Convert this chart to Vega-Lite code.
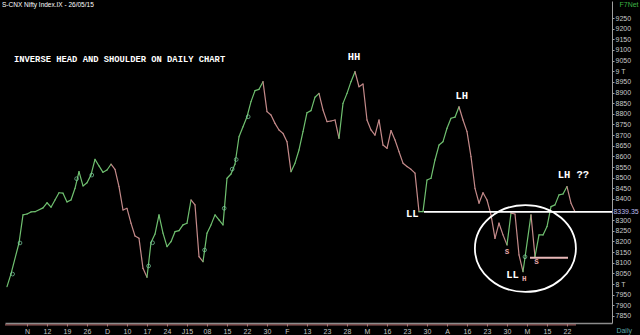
{
  "$schema": "https://vega.github.io/schema/vega-lite/v6.json",
  "width": 607,
  "height": 322,
  "autosize": {"type": "none"},
  "padding": {"top": 1, "left": 5, "right": 28, "bottom": 12},
  "background": "#000000",
  "config": {"view": {"stroke": null}},
  "datasets": {
    "prices": [
      {"t": 0, "price": 7988, "trend": "up"},
      {"t": 1, "price": 8048, "trend": "up"},
      {"t": 3, "price": 8193, "trend": "up"},
      {"t": 4, "price": 8325, "trend": "up"},
      {"t": 5, "price": 8329, "trend": "up"},
      {"t": 6, "price": 8339, "trend": "up"},
      {"t": 7, "price": 8340, "trend": "up"},
      {"t": 9, "price": 8358, "trend": "up"},
      {"t": 10, "price": 8382, "trend": "up"},
      {"t": 11, "price": 8361, "trend": "up"},
      {"t": 12, "price": 8395, "trend": "up"},
      {"t": 13, "price": 8429, "trend": "up"},
      {"t": 14, "price": 8427, "trend": "up"},
      {"t": 15, "price": 8386, "trend": "up"},
      {"t": 16, "price": 8395, "trend": "up"},
      {"t": 17, "price": 8450, "trend": "up"},
      {"t": 18, "price": 8528, "trend": "up"},
      {"t": 19, "price": 8461, "trend": "up"},
      {"t": 20, "price": 8476, "trend": "up"},
      {"t": 21, "price": 8513, "trend": "up"},
      {"t": 22, "price": 8586, "trend": "up"},
      {"t": 23, "price": 8555, "trend": "up"},
      {"t": 24, "price": 8525, "trend": "up"},
      {"t": 25, "price": 8536, "trend": "up"},
      {"t": 26, "price": 8563, "trend": "up"},
      {"t": 27, "price": 8539, "trend": "down"},
      {"t": 28, "price": 8458, "trend": "down"},
      {"t": 29, "price": 8348, "trend": "down"},
      {"t": 30, "price": 8356, "trend": "down"},
      {"t": 31, "price": 8286, "trend": "down"},
      {"t": 32, "price": 8226, "trend": "down"},
      {"t": 33, "price": 8215, "trend": "down"},
      {"t": 34, "price": 8074, "trend": "down"},
      {"t": 35, "price": 8032, "trend": "down"},
      {"t": 36, "price": 8195, "trend": "up"},
      {"t": 37, "price": 8235, "trend": "up"},
      {"t": 38, "price": 8325, "trend": "up"},
      {"t": 39, "price": 8239, "trend": "up"},
      {"t": 40, "price": 8176, "trend": "up"},
      {"t": 41, "price": 8199, "trend": "up"},
      {"t": 42, "price": 8246, "trend": "up"},
      {"t": 43, "price": 8251, "trend": "up"},
      {"t": 44, "price": 8278, "trend": "up"},
      {"t": 45, "price": 8286, "trend": "up"},
      {"t": 46, "price": 8395, "trend": "up"},
      {"t": 47, "price": 8372, "trend": "down"},
      {"t": 48, "price": 8129, "trend": "down"},
      {"t": 49, "price": 8105, "trend": "down"},
      {"t": 50, "price": 8239, "trend": "up"},
      {"t": 51, "price": 8278, "trend": "up"},
      {"t": 52, "price": 8325, "trend": "up"},
      {"t": 53, "price": 8301, "trend": "up"},
      {"t": 54, "price": 8278, "trend": "up"},
      {"t": 55, "price": 8497, "trend": "up"},
      {"t": 56, "price": 8517, "trend": "up"},
      {"t": 57, "price": 8564, "trend": "up"},
      {"t": 58, "price": 8692, "trend": "up"},
      {"t": 59, "price": 8739, "trend": "up"},
      {"t": 60, "price": 8786, "trend": "up"},
      {"t": 61, "price": 8857, "trend": "up"},
      {"t": 62, "price": 8909, "trend": "up"},
      {"t": 63, "price": 8915, "trend": "up"},
      {"t": 64, "price": 8951, "trend": "up"},
      {"t": 65, "price": 8810, "trend": "down"},
      {"t": 66, "price": 8794, "trend": "down"},
      {"t": 67, "price": 8755, "trend": "down"},
      {"t": 68, "price": 8724, "trend": "down"},
      {"t": 69, "price": 8708, "trend": "down"},
      {"t": 70, "price": 8669, "trend": "down"},
      {"t": 71, "price": 8528, "trend": "down"},
      {"t": 72, "price": 8568, "trend": "up"},
      {"t": 73, "price": 8630, "trend": "up"},
      {"t": 74, "price": 8716, "trend": "up"},
      {"t": 75, "price": 8805, "trend": "up"},
      {"t": 76, "price": 8815, "trend": "up"},
      {"t": 77, "price": 8878, "trend": "up"},
      {"t": 78, "price": 8896, "trend": "up"},
      {"t": 79, "price": 8818, "trend": "down"},
      {"t": 80, "price": 8763, "trend": "down"},
      {"t": 81, "price": 8766, "trend": "down"},
      {"t": 82, "price": 8771, "trend": "down"},
      {"t": 83, "price": 8685, "trend": "down"},
      {"t": 84, "price": 8849, "trend": "up"},
      {"t": 85, "price": 8896, "trend": "up"},
      {"t": 86, "price": 8951, "trend": "up"},
      {"t": 87, "price": 8998, "trend": "up"},
      {"t": 88, "price": 8927, "trend": "down"},
      {"t": 89, "price": 8940, "trend": "down"},
      {"t": 90, "price": 8771, "trend": "down"},
      {"t": 91, "price": 8724, "trend": "down"},
      {"t": 92, "price": 8700, "trend": "down"},
      {"t": 93, "price": 8771, "trend": "down"},
      {"t": 94, "price": 8653, "trend": "down"},
      {"t": 95, "price": 8638, "trend": "down"},
      {"t": 96, "price": 8721, "trend": "down"},
      {"t": 97, "price": 8677, "trend": "down"},
      {"t": 98, "price": 8622, "trend": "down"},
      {"t": 99, "price": 8568, "trend": "down"},
      {"t": 100, "price": 8552, "trend": "down"},
      {"t": 101, "price": 8539, "trend": "down"},
      {"t": 102, "price": 8521, "trend": "down"},
      {"t": 103, "price": 8340, "trend": "down"},
      {"t": 104, "price": 8340, "trend": "up"},
      {"t": 105, "price": 8489, "trend": "up"},
      {"t": 106, "price": 8497, "trend": "up"},
      {"t": 107, "price": 8583, "trend": "up"},
      {"t": 108, "price": 8653, "trend": "up"},
      {"t": 109, "price": 8669, "trend": "up"},
      {"t": 110, "price": 8732, "trend": "up"},
      {"t": 111, "price": 8779, "trend": "up"},
      {"t": 112, "price": 8784, "trend": "up"},
      {"t": 113, "price": 8833, "trend": "up"},
      {"t": 114, "price": 8771, "trend": "down"},
      {"t": 115, "price": 8716, "trend": "down"},
      {"t": 116, "price": 8599, "trend": "down"},
      {"t": 117, "price": 8450, "trend": "down"},
      {"t": 118, "price": 8380, "trend": "down"},
      {"t": 119, "price": 8429, "trend": "down"},
      {"t": 120, "price": 8395, "trend": "down"},
      {"t": 121, "price": 8325, "trend": "down"},
      {"t": 122, "price": 8215, "trend": "down"},
      {"t": 123, "price": 8286, "trend": "down"},
      {"t": 124, "price": 8231, "trend": "down"},
      {"t": 125, "price": 8184, "trend": "down"},
      {"t": 126, "price": 8333, "trend": "up"},
      {"t": 127, "price": 8329, "trend": "down"},
      {"t": 128, "price": 8137, "trend": "down"},
      {"t": 129, "price": 8058, "trend": "down"},
      {"t": 131, "price": 8325, "trend": "up"},
      {"t": 132, "price": 8129, "trend": "down"},
      {"t": 133, "price": 8231, "trend": "up"},
      {"t": 134, "price": 8231, "trend": "up"},
      {"t": 135, "price": 8270, "trend": "up"},
      {"t": 136, "price": 8364, "trend": "up"},
      {"t": 137, "price": 8372, "trend": "up"},
      {"t": 138, "price": 8419, "trend": "up"},
      {"t": 139, "price": 8423, "trend": "up"},
      {"t": 140, "price": 8458, "trend": "up"},
      {"t": 141, "price": 8380, "trend": "down"},
      {"t": 142, "price": 8340, "trend": "down"}
    ],
    "signals": [
      {"t": 1.4, "price": 8047},
      {"t": 3.25, "price": 8193},
      {"t": 17.4, "price": 8495},
      {"t": 21.2, "price": 8512},
      {"t": 35.4, "price": 8085},
      {"t": 36.4, "price": 8194},
      {"t": 49.4, "price": 8160},
      {"t": 54.3, "price": 8356},
      {"t": 56.3, "price": 8540},
      {"t": 57.3, "price": 8585},
      {"t": 60.3, "price": 8786},
      {"t": 129.5, "price": 8128}
    ],
    "marks": [
      {"t": 86.75, "price": 9067, "label": "HH"},
      {"t": 113.7, "price": 8884, "label": "LH"},
      {"t": 141.6, "price": 8512, "label": "LH ??"},
      {"t": 101.3, "price": 8329, "label": "LL"},
      {"t": 126.4, "price": 8044, "label": "LL"}
    ],
    "small": [
      {"t": 125, "price": 8152, "label": "S"},
      {"t": 132.4, "price": 8102, "label": "S"},
      {"t": 129.3, "price": 8023, "label": "H"}
    ]
  },
  "layer": [
    {
      "data": {"name": "prices"},
      "transform": [
        {"window": [
          {"op": "lead", "field": "t", "as": "t2"},
          {"op": "lead", "field": "price", "as": "p2"},
          {"op": "lead", "field": "trend", "as": "trend2"}
        ], "sort": [{"field": "t", "order": "ascending"}], "frame": [null, null]},
        {"filter": "datum.t2 != null"}
      ],
      "mark": {"type": "rule", "strokeWidth": 1.2, "strokeCap": "round"},
      "encoding": {
        "x": {
          "field": "t", "type": "quantitative",
          "scale": {"domain": [-0.5, 151.25], "nice": false, "zero": false},
          "axis": {
            "values": [5,10,15,20,25,30,35,40,45,50,55,60,65,70,75,80,85,90,95,100,105,110,115,120,125,130,135,140],
            "tickCount": 200,
            "labelExpr": "['N','12','19','26','D','10','17','24','J15','08','15','22','30','F','13','23','28','M','16','23','30','A','16','23','30','M','15','22'][datum.value/5-1]",
            "grid": false, "title": null,
            "domainColor": "#8c8c8c", "domainWidth": 1.6,
            "tickColor": "#a07878", "tickSize": 3,
            "labelColor": "#c8c8c8", "labelFontSize": 7, "labelFont": "Liberation Sans",
            "labelPadding": 1, "labelOverlap": false, "labelFlush": false
          }
        },
        "y": {
          "field": "price", "type": "quantitative",
          "scale": {"domain": [7817, 9330], "nice": false, "zero": false},
          "axis": {
            "orient": "right",
            "values": [7850,7900,7950,8000,8050,8100,8150,8200,8250,8300,8400,8450,8500,8550,8600,8650,8700,8750,8800,8850,8900,8950,9000,9050,9100,9150,9200,9250],
            "tickCount": 200,
            "labelExpr": "datum.value == 9000 ? '9 T' : datum.value == 8000 ? '8 T' : format(datum.value, 'd')",
            "grid": false, "title": null,
            "domainColor": "#a0a0a0", "domainWidth": 1,
            "tickColor": "#a0a0a0", "tickSize": 2,
            "labelColor": "#c8c8c8", "labelFontSize": 7, "labelFont": "Liberation Sans",
            "labelPadding": 1, "labelOverlap": false, "labelFlush": false
          }
        },
        "x2": {"field": "t2"},
        "y2": {"field": "p2"},
        "color": {
          "field": "trend2", "type": "nominal",
          "scale": {"domain": ["up", "down"], "range": ["#70c070", "#c48a8a"]},
          "legend": null
        }
      }
    },
    {
      "data": {"name": "signals"},
      "mark": {"type": "point", "filled": false, "size": 14, "strokeWidth": 1, "color": "#80d8a8"},
      "encoding": {
        "x": {"field": "t", "type": "quantitative"},
        "y": {"field": "price", "type": "quantitative"}
      }
    },
    {
      "data": {"values": [{}]},
      "mark": {"type": "rule", "color": "#ffffff", "strokeWidth": 1.8},
      "encoding": {
        "x": {"datum": 104.25}, "x2": {"datum": 151.25},
        "y": {"datum": 8339.35}
      }
    },
    {
      "data": {"values": [{}]},
      "mark": {"type": "rule", "color": "#e8b8b8", "strokeWidth": 2},
      "encoding": {
        "x": {"datum": 130.75}, "x2": {"datum": 140.25},
        "y": {"datum": 8124}
      }
    },
    {
      "data": {"values": [{}]},
      "mark": {"type": "rule", "color": "#b87070", "strokeWidth": 1},
      "encoding": {
        "x": {"datum": -0.5}, "x2": {"datum": 142.25},
        "y": {"datum": 7808}
      }
    },
    {
      "data": {"values": [{}]},
      "mark": {
        "type": "point", "filled": false, "stroke": "#ffffff", "strokeWidth": 1.8, "opacity": 1,
        "shape": "M1,0 C1,0.475 0.5523,0.86 0,0.86 C-0.5523,0.86 -1,0.475 -1,0 C-1,-0.475 -0.5523,-0.86 0,-0.86 C0.5523,-0.86 1,-0.475 1,0 Z",
        "size": 10201
      },
      "encoding": {
        "x": {"datum": 129.6},
        "y": {"datum": 8167}
      }
    },
    {
      "data": {"name": "marks"},
      "mark": {"type": "text", "font": "Liberation Mono", "fontWeight": "bold", "fontSize": 10.5, "color": "#ffffff", "align": "center", "baseline": "middle"},
      "encoding": {
        "x": {"field": "t", "type": "quantitative"},
        "y": {"field": "price", "type": "quantitative"},
        "text": {"field": "label"}
      }
    },
    {
      "data": {"name": "small"},
      "mark": {"type": "text", "font": "Liberation Mono", "fontWeight": "bold", "fontSize": 7.5, "color": "#e8aaaa", "align": "center", "baseline": "middle"},
      "encoding": {
        "x": {"field": "t", "type": "quantitative"},
        "y": {"field": "price", "type": "quantitative"},
        "text": {"field": "label"}
      }
    },
    {
      "data": {"values": [{}]},
      "mark": {"type": "text", "font": "Liberation Mono", "fontWeight": "bold", "fontSize": 8.8, "color": "#ffffff", "align": "left", "baseline": "middle"},
      "encoding": {
        "x": {"datum": 1.75},
        "y": {"datum": 9057},
        "text": {"value": "INVERSE HEAD AND SHOULDER ON DAILY CHART"}
      }
    },
    {
      "data": {"values": [{}]},
      "mark": {"type": "text", "font": "Liberation Sans", "fontSize": 6.5, "color": "#ffffff", "align": "left", "baseline": "middle"},
      "encoding": {
        "x": {"datum": -1.25},
        "y": {"datum": 9311},
        "text": {"value": "S-CNX Nifty Index.IX - 26/05/15"}
      }
    },
    {
      "data": {"values": [{}]},
      "mark": {"type": "text", "font": "Liberation Sans", "fontSize": 7, "color": "#3cb043", "align": "center", "baseline": "middle"},
      "encoding": {
        "x": {"datum": 155.5},
        "y": {"datum": 9311},
        "text": {"value": "F7Net"}
      }
    },
    {
      "data": {"values": [{}]},
      "mark": {"type": "text", "font": "Liberation Sans", "fontSize": 7, "color": "#5fa8a8", "align": "center", "baseline": "middle"},
      "encoding": {
        "x": {"datum": 154.3},
        "y": {"datum": 7781},
        "text": {"value": "Daily"}
      }
    },
    {
      "data": {"values": [{}]},
      "mark": {"type": "text", "font": "Liberation Sans", "fontSize": 7, "color": "#b8b8e8", "align": "left", "baseline": "middle"},
      "encoding": {
        "x": {"datum": 151.6},
        "y": {"datum": 8339.35},
        "text": {"value": "8339.35"}
      }
    }
  ]
}
